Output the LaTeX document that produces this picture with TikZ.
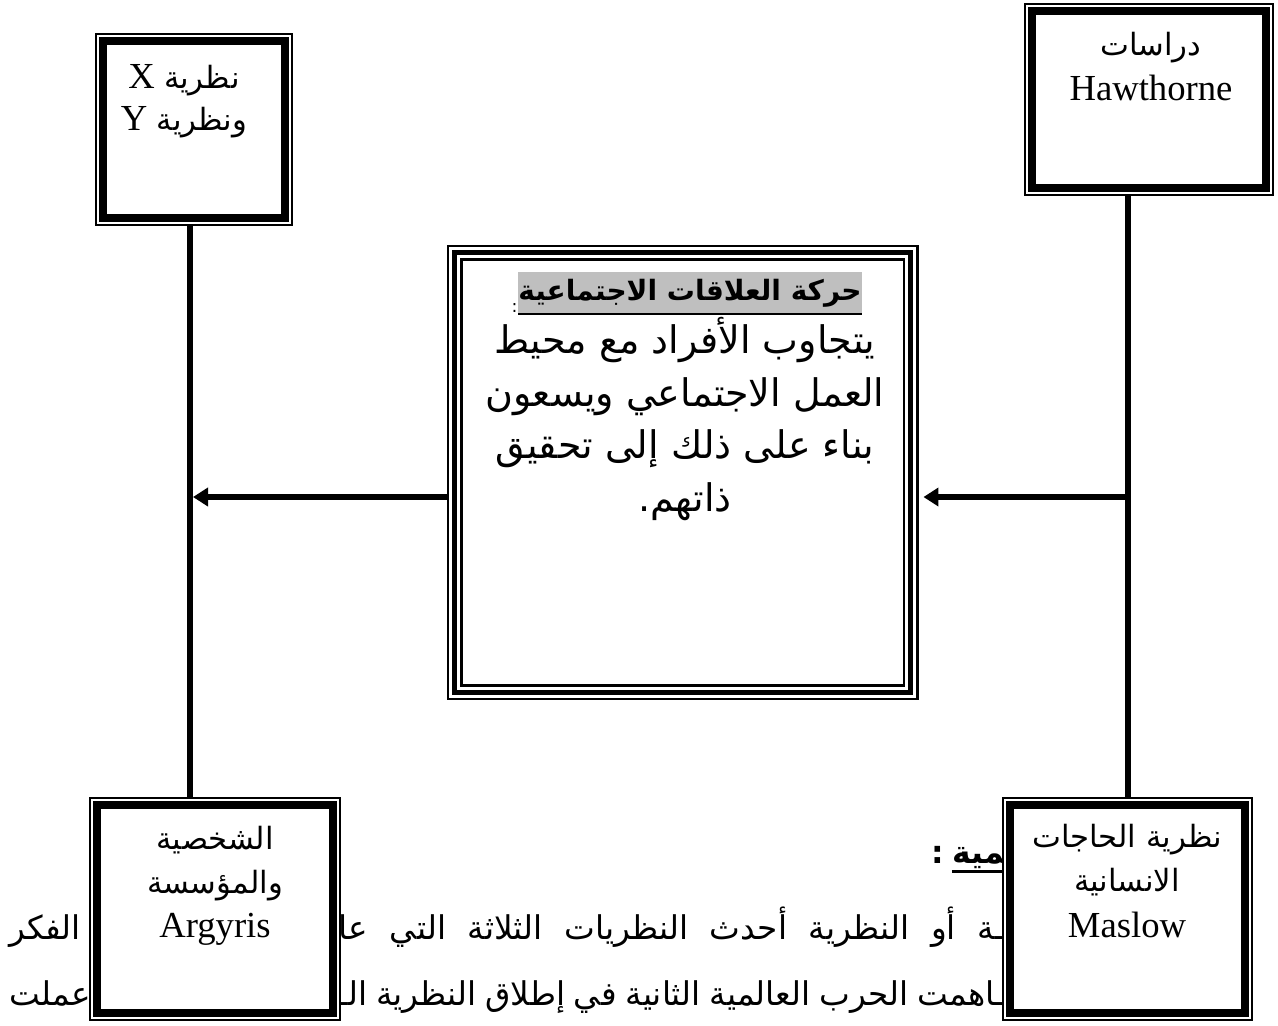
\documentclass[tikz,border=0pt]{standalone}
\usepackage{fontspec}
\setmainfont{Liberation Serif}
\newfontfamily\arab[Script=Arabic]{DejaVu Sans}
\TeXXeTstate=1
\usetikzlibrary{arrows.meta}
\pgfdeclarelayer{bg}
\pgfsetlayers{bg,main}
\definecolor{hlgray}{RGB}{191,191,191}
\newcommand\arsmall[1]{{\arab\fontsize{23}{27}\selectfont #1}}

\begin{document}
\begin{tikzpicture}[x=0.75pt,y=-0.75pt,
  boxframe/.style={draw=black, line width=0.9pt, fill=white, inner sep=0pt, outer sep=0pt, anchor=north west},
  heavy/.style={line width=5.6pt},
  conn/.style={line width=4.5pt},
  tipped/.style={-{Triangle[length=11.25pt,width=13.5pt]}},
  lbl/.style={inner sep=0pt, anchor=base},
  lat/.style={lbl, font=\fontsize{27.5}{33}\selectfont},
  arbody/.style={lbl, font=\arab\fontsize{28.5}{34}\selectfont},
  para/.style={inner sep=0pt, font=\arab\fontsize{24.5}{29}\selectfont},
  parabold/.style={inner sep=0pt, font=\arab\bfseries\fontsize{23.5}{28}\selectfont},
]
\useasboundingbox (0,0) rectangle (1278,1025);

% page text running behind the lower boxes
\begin{pgfonlayer}{bg}
\fill[white] (0,0) rectangle (1278,1025);
\node[parabold, anchor=base east] (bh) at (1016,863) {\beginR ـمية\endR};
\node[parabold, anchor=base east] (bc) at (944,863) {:};
\draw[line width=2.2pt] ([yshift=-6.4pt]bh.base west) -- ([yshift=-6.4pt]bh.base east);
\node[para, anchor=base east] (p1) at (1005,939)
  {\hbox to 499.5pt{\beginR ـة \hfill أو \hfill النظرية \hfill أحدث \hfill النظريات \hfill الثلاثة \hfill التي \hfill عا\endR}};
\node[para, anchor=base east] (p2) at (1005,1005)
  {\hbox to 499.5pt{\beginR ـاهمت \hfill الحرب \hfill العالمية \hfill الثانية \hfill في \hfill إطلاق \hfill النظرية \hfill الـ\endR}};
\node[para, anchor=base west] (p1l) at (9,939) {\beginR الفكر\endR};
\node[para, anchor=base west] (p2l) at (9,1005) {\beginR عملت\endR};
\end{pgfonlayer}

% framed boxes: thin outer line with a heavy inner line
\node[boxframe, minimum width=147pt, minimum height=143.25pt] (tl) at (96,34) {};
\draw[heavy] ([shift={(7,7)}]tl.north west) rectangle ([shift={(-7,-7)}]tl.south east);
\node[boxframe, minimum width=186pt, minimum height=143.25pt] (tr) at (1025,4) {};
\draw[heavy] ([shift={(7,7)}]tr.north west) rectangle ([shift={(-7,-7)}]tr.south east);
\node[boxframe, minimum width=187.5pt, minimum height=166.5pt] (bl) at (90,798) {};
\draw[heavy] ([shift={(7,7)}]bl.north west) rectangle ([shift={(-7,-7)}]bl.south east);
\node[boxframe, minimum width=186.75pt, minimum height=166.5pt] (br) at (1003,798) {};
\draw[heavy] ([shift={(7,7)}]br.north west) rectangle ([shift={(-7,-7)}]br.south east);

% central box with a triple border
\node[boxframe, line width=1.9pt, minimum width=352.1pt, minimum height=339.75pt] (c) at (448,246) {};
\draw[line width=3.4pt] ([shift={(6.75,6.75)}]c.north west) rectangle ([shift={(-6.75,-6.75)}]c.south east);
\draw[line width=1.9pt] ([shift={(13.25,13.25)}]c.north west) rectangle ([shift={(-13.25,-13.25)}]c.south east);

% connectors
\coordinate (lcol) at (190,500);
\coordinate (rcol) at (1128,500);
\coordinate (arow) at (600,497);
\draw[conn] (tl.south -| lcol) -- (bl.north -| lcol);
\draw[conn] (tr.south -| rcol) -- (br.north -| rcol);
\draw[conn, tipped, shorten >=2.25pt] (c.west |- arow) -- (lcol |- arow);
\draw[conn, tipped, shorten >=4.5pt] (rcol |- arow) -- (c.east |- arow);

% box labels
\node[lat] (tl1) at (184,88) {\beginR\arsmall{نظرية} X\endR};
\node[lat] (tl2) at (184,130) {\beginR\arsmall{ونظرية} Y\endR};
\node[lat] (tr1) at (1151,55) {\arsmall{\beginR دراسات\endR}};
\node[lat] (tr2) at (1151,100) {Hawthorne};
\node[lat] (bl1) at (215,849) {\arsmall{\beginR الشخصية\endR}};
\node[lat] (bl2) at (215,893) {\arsmall{\beginR والمؤسسة\endR}};
\node[lat] (bl3) at (215,937) {Argyris};
\node[lat] (br1) at (1127,847) {\arsmall{\beginR نظرية الحاجات\endR}};
\node[lat] (br2) at (1127,891) {\arsmall{\beginR الانسانية\endR}};
\node[lat] (br3) at (1127,937) {Maslow};

% central text
\node[fill=hlgray, inner sep=0pt, outer sep=0pt, minimum width=244.5pt, minimum height=32.25pt,
  font=\arab\bfseries\fontsize{21}{25}\selectfont] (hd) at (690,293.5) {\beginR حركة العلاقات الاجتماعية\endR};
\draw[line width=2pt] ([yshift=0.8pt]hd.south west) -- ([yshift=0.8pt]hd.south east);
\node[lbl, anchor=base east, font=\arab\fontsize{13}{15}\selectfont] (hdc) at ([xshift=-0.5pt,yshift=2pt]hd.south west) {:};
\node[arbody] (c1) at (685,353) {\beginR يتجاوب الأفراد مع محيط\endR};
\node[arbody] (c2) at (685,406) {\beginR العمل الاجتماعي ويسعون\endR};
\node[arbody] (c3) at (685,458) {\beginR بناء على ذلك إلى تحقيق\endR};
\node[arbody] (c4) at (685,511) {\beginR ذاتهم.\endR};
\end{tikzpicture}
\end{document}
